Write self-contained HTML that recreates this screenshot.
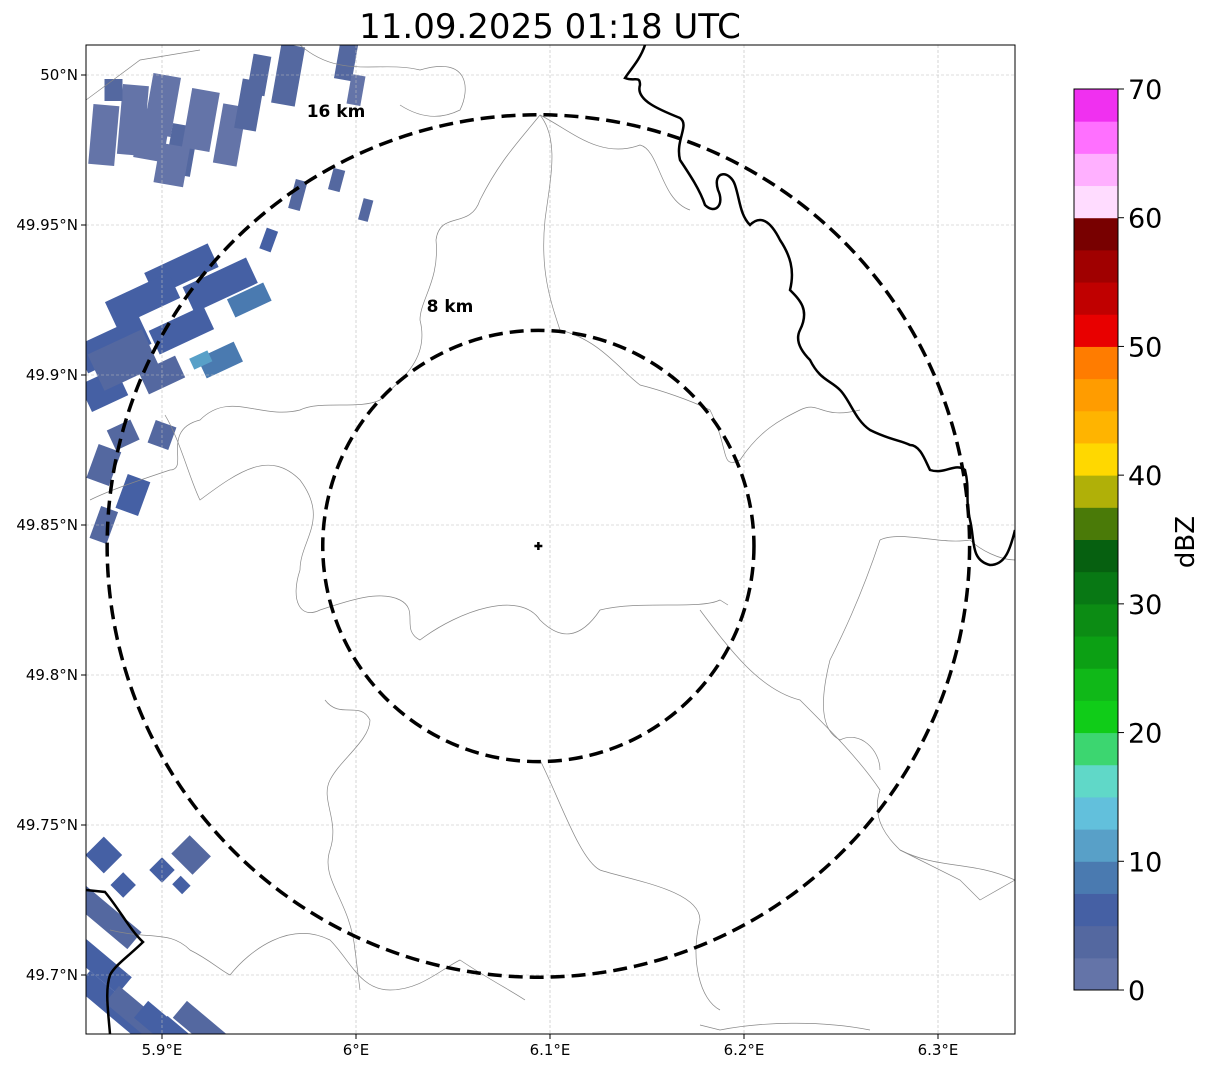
<!DOCTYPE html>
<html><head><meta charset="utf-8"><style>
body{margin:0;background:#fff;font-family:"Liberation Sans",sans-serif}
svg text{font-family:"DejaVu Sans","Liberation Sans",sans-serif}
</style></head><body>
<svg id="c" width="1207" height="1069" viewBox="0 0 1207 1069">
<defs><clipPath id="mapclip"><rect x="86" y="45" width="929" height="989"/></clipPath></defs>
<text x="550" y="38" text-anchor="middle" font-size="34">11.09.2025 01:18 UTC</text>
<g id="map" clip-path="url(#mapclip)"></g>
<rect x="86" y="45" width="929" height="989" fill="none" stroke="#000" stroke-width="1"/>
<g id="axes"></g>
<g id="cbar"></g>
<text transform="translate(1194,542) rotate(-90)" text-anchor="middle" font-size="26">dBZ</text>
</svg>
<script>
const lonTicks=[5.9,6.0,6.1,6.2,6.3];
const lonLabels=["5.9°E","6°E","6.1°E","6.2°E","6.3°E"];
const latTicks=[50.0,49.95,49.9,49.85,49.8,49.75,49.7];
const latLabels=["50°N","49.95°N","49.9°N","49.85°N","49.8°N","49.75°N","49.7°N"];
const cbarTicks=[0,10,20,30,40,50,60,70];
const cbarColors=["#6474a8","#5468a0","#4560a4","#4a7ab0","#58a0c8","#62c0dc","#60d8c8","#3cd670","#10cc18","#10b818","#0ca014","#0c8c14","#087814","#066010","#4a7a08","#b0b008","#ffd800","#ffb400","#ff9c00","#ff7c00","#e80000","#c00000","#a00000","#780000","#ffdcff","#ffb0ff","#ff70ff","#f030f0"];
const radarCenter=[6.094,49.843];
const ringKm=[8,16];
const blobLon=[5.87,5.885,5.9,5.91,5.92,5.935,5.945,5.95,5.875,5.965,5.995,6.0,5.97,5.99,6.005,5.91,5.93,5.945,5.89,5.875,5.91,5.93,5.87,5.88,5.9,5.955,5.87,5.885,5.9,5.87,5.92,5.915,5.87,5.88,5.9,5.91,5.895,5.905,5.88];
const blobLat=[49.98,49.985,49.99,49.975,49.985,49.98,49.99,50.0,49.995,50.0,50.005,49.995,49.96,49.965,49.955,49.935,49.93,49.925,49.925,49.91,49.915,49.905,49.895,49.88,49.9,49.945,49.87,49.86,49.88,49.85,49.905,49.74,49.74,49.73,49.735,49.73,49.98,49.97,49.905];
const blobW=[26,26,28,26,28,24,22,18,18,24,18,14,12,12,10,70,70,40,70,70,60,40,40,26,40,12,24,24,22,18,20,30,26,18,18,14,30,30,60];
const blobH=[60,70,60,50,60,60,50,40,22,60,40,30,30,22,22,26,28,20,28,30,26,22,30,22,24,22,36,36,24,34,12,26,26,18,18,12,50,40,40];
const blobAng=[5,5,10,10,10,10,10,10,0,10,10,10,15,15,15,-25,-25,-25,-25,-25,-25,-25,-25,-25,-25,20,20,20,20,20,-25,45,45,45,45,45,10,10,-25];
const blobDbz=[2,1,2,3,2,2,3,4,4,3,4,2,3,4,3,6,5,9,5,6,6,8,5,4,4,6,4,5,3,4,11,4,6,5,6,5,2,2,4];
const swathLon=[5.865,5.875,5.89,5.905,5.915,5.925,5.87];
const swathLat=[49.705,49.69,49.685,49.68,49.675,49.68,49.72];
const swathDbz=[5,6,4,5,6,3,4];

const NS="http://www.w3.org/2000/svg";
const X=lon=>162+(lon-5.9)*1940;
const Y=lat=>75+(50-lat)*3000;
function mk(tag,at,parent){const e=document.createElementNS(NS,tag);for(const k in at)e.setAttribute(k,at[k]);parent.appendChild(e);return e;}
const map=document.getElementById('map'),axes=document.getElementById('axes'),cbar=document.getElementById('cbar');
function colorFor(v){return cbarColors[Math.max(0,Math.min(27,Math.floor(v/2.5)))];}

for(let i=0;i<blobLon.length;i++){
 const cx=X(blobLon[i]),cy=Y(blobLat[i]);
 const r=mk('rect',{x:cx-blobW[i]/2,y:cy-blobH[i]/2,width:blobW[i],height:blobH[i],fill:colorFor(blobDbz[i]),transform:`rotate(${blobAng[i]} ${cx} ${cy})`},map);
 
 
}
for(let i=0;i<swathLon.length;i++){
 const cx=X(swathLon[i]),cy=Y(swathLat[i]);
 const r=mk('rect',{x:cx-40,y:cy-11,width:80,height:22,fill:colorFor(swathDbz[i]),transform:`rotate(40 ${cx} ${cy})`},map);
 
 
}
lonTicks.forEach(t=>{const l=mk('line',{x1:X(t),x2:X(t),y1:45,y2:1034,stroke:'#bbb','stroke-width':0.6,'stroke-dasharray':'3,2'},map);});
latTicks.forEach(t=>{const l=mk('line',{x1:86,x2:1015,y1:Y(t),y2:Y(t),stroke:'#bbb','stroke-width':0.6,'stroke-dasharray':'3,2'},map);});
const grayPaths=[
"M86,100 L140,60 L200,50 M300,45 C340,80 380,60 420,70 C470,55 470,90 460,110 C440,120 420,118 400,105",
"M540,115 C520,140 500,160 480,200 C470,230 440,210 436,240 C440,280 420,300 420,320 C430,360 400,380 380,400 C360,410 320,400 300,410 C260,420 230,390 200,420 C160,430 190,470 170,470 C140,480 110,490 90,500",
"M540,115 C560,140 550,180 545,220 C540,270 550,300 560,330 C600,340 620,370 640,385 C660,390 690,400 710,410 C730,450 720,470 740,460 C760,430 780,420 800,410 C820,400 820,420 860,410",
"M540,115 C570,130 600,160 640,145 C660,150 660,200 690,210",
"M165,415 C180,440 190,480 200,500 C240,470 270,450 300,480 C330,520 300,540 300,570 C290,600 300,620 320,610 C350,600 380,590 400,600 C420,610 400,630 420,640 C460,610 520,590 540,620 C560,640 580,640 600,610 C640,600 700,610 720,600 L728,605",
"M700,610 C730,650 760,690 800,700 C830,730 860,760 880,790 C870,820 890,840 900,850 C940,870 970,860 1015,880",
"M880,540 C900,530 940,545 970,540 C980,550 1000,560 1015,560",
"M880,540 C860,600 840,640 830,660 C820,700 820,730 840,740 C860,730 880,750 880,770",
"M110,930 C150,940 170,930 190,950 C210,960 220,970 230,975 C250,950 290,920 330,940 C350,960 360,990 390,990 C420,990 440,970 460,960 C490,980 510,990 525,1000",
"M325,700 C340,720 360,700 370,720 C370,740 340,760 330,780 C320,800 340,820 330,850 C320,880 350,900 355,950 L360,990",
"M540,760 C560,800 580,860 600,870 C630,880 700,890 700,920 C690,960 700,1000 720,1010",
"M700,1025 L720,1030 C760,1022 820,1020 870,1030",
"M900,850 L960,880 L980,900 L1015,880"
];
grayPaths.forEach(d=>{const p=mk('path',{d:d,fill:'none',stroke:'#888','stroke-width':0.7},map);});
const blackPaths=[
"M645,45 C640,60 630,70 625,78 C635,82 640,75 640,85 C635,100 660,110 680,118 C690,125 675,140 680,160 C690,175 700,190 705,205 C715,215 725,205 718,190 C712,170 730,170 735,185 C740,200 740,215 750,225 C760,215 770,220 780,240 C790,255 795,270 790,290 C800,300 810,310 800,330 C795,340 800,350 810,360 C820,380 830,380 840,390 C850,400 855,420 870,430 C890,440 900,440 910,445 C920,445 925,460 930,470 C945,475 955,462 965,470 C970,490 965,500 970,520 C975,540 970,560 990,565 C1005,565 1010,550 1015,530",
"M86,890 L105,892 C120,910 130,930 143,942 C130,955 115,965 110,975 C105,990 108,1010 110,1034"
];
blackPaths.forEach(d=>{const p=mk('path',{d:d,fill:'none',stroke:'#000','stroke-width':2.5},map);});
const labelPos={8:[450,312],16:[336,117]};
ringKm.forEach(km=>{
 const cx=X(radarCenter[0]),cy=Y(radarCenter[1]);
 const r=(km/111.2)*3000*0.999;
 const c=mk('circle',{cx:cx,cy:cy,r:r,fill:'none',stroke:'#000','stroke-width':3.5,'stroke-dasharray':'14,7'},map);
 
 
 const t=mk('text',{x:labelPos[km][0],y:labelPos[km][1],'font-size':17,'font-weight':'bold','text-anchor':'middle'},map);
 t.textContent=km+' km';
 
 
});
{const cx=X(radarCenter[0]),cy=Y(radarCenter[1]);
 const m=mk('path',{d:`M${cx-4},${cy} H${cx+4} M${cx},${cy-4} V${cy+4}`,stroke:'#000','stroke-width':2.5},map);
 }
lonTicks.forEach((t,i)=>{mk('line',{x1:X(t),x2:X(t),y1:1034,y2:1039,stroke:'#000'},axes);
 const e=mk('text',{x:X(t),y:1055,'font-size':15,'text-anchor':'middle'},axes);e.textContent=lonLabels[i];
 });
latTicks.forEach((t,i)=>{mk('line',{x1:81,x2:86,y1:Y(t),y2:Y(t),stroke:'#000'},axes);
 const e=mk('text',{x:78,y:Y(t)+5,'font-size':15,'text-anchor':'end'},axes);e.textContent=latLabels[i];
 });
const cbTop=89,cbBot=990,cbX=1074,cbW=44;
const CY=v=>cbBot-(v/70)*(cbBot-cbTop);
cbarColors.forEach((col,i)=>{const r=mk('rect',{x:cbX,y:CY((i+1)*2.5),width:cbW,height:CY(i*2.5)-CY((i+1)*2.5)+0.5,fill:col},cbar);
 });
mk('rect',{x:cbX,y:cbTop,width:cbW,height:cbBot-cbTop,fill:'none',stroke:'#000','stroke-width':1},cbar);
cbarTicks.forEach(v=>{mk('line',{x1:cbX+cbW,x2:cbX+cbW+6,y1:CY(v),y2:CY(v),stroke:'#000'},cbar);
 const e=mk('text',{x:cbX+cbW+10,y:CY(v)+10,'font-size':27},cbar);e.textContent=v;
 });
</script>
</body></html>
